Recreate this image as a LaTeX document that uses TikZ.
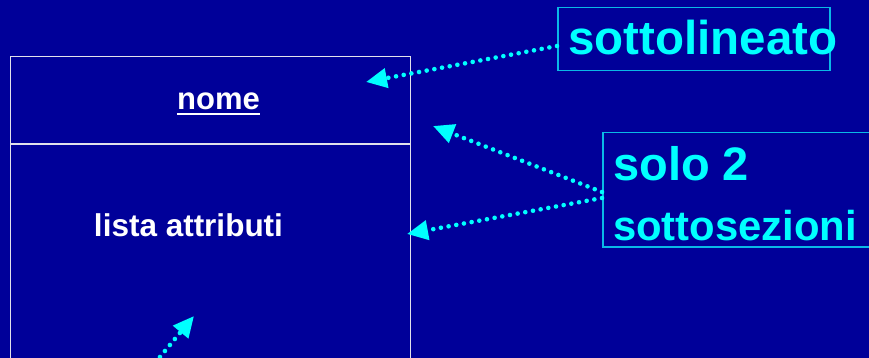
\documentclass[tikz,border=0pt]{standalone}
\usepackage{fontspec}
\setmainfont{Liberation Sans}
\usetikzlibrary{arrows.meta}
\definecolor{bgblue}{RGB}{0,0,153}
\definecolor{notecyan}{RGB}{0,255,255}
\definecolor{noteframe}{RGB}{10,185,230}
\definecolor{classline}{RGB}{225,225,235}
\tikzset{
  classbox/.style={draw=classline, line width=1.4pt, inner sep=0pt},
  notebox/.style={draw=noteframe, line width=1.5pt, inner sep=0pt},
  notetext/.style={text=notecyan, font=\bfseries, inner sep=0pt, anchor=base west},
  classtext/.style={text=white, font=\bfseries, inner sep=0pt, anchor=base},
  pointer/.style={draw=notecyan, line width=4.6pt, line cap=round,
    dash pattern=on 0pt off 7.8pt,
    -{Triangle[length=21pt,width=19pt,fill=notecyan]}},
}
\begin{document}
\begin{tikzpicture}[x=1pt,y=-1pt]
  % page
  \fill[bgblue] (0,0) rectangle (869,358);
  \useasboundingbox (0,0) rectangle (869,358);
  \begin{scope}
    \clip (0,0) rectangle (869,358);
    % class rectangle with name and attribute sections
    \node[classbox, minimum width=400pt, minimum height=320pt, anchor=north west]
      (cls) at (10,56) {};
    \coordinate (divL) at (10,144);
    \coordinate (divR) at (410,144);
    \draw[classline, line width=1.4pt] (divL) -- (divR);
    \node[classtext, font=\bfseries\fontsize{31}{31}\selectfont] (nome) at (218.5,110)
      {nome};
    \draw[white, line width=2.8pt]
      ([yshift=-4pt]nome.base west) -- ([yshift=-4pt]nome.base east);
    \node[classtext, font=\bfseries\fontsize{31.5}{31.5}\selectfont] (attr) at (188.5,236)
      {lista attributi};

    % note boxes
    \node[notebox, minimum width=272pt, minimum height=63pt, anchor=north west]
      (sbox) at (557,7) {};
    \node[notetext, font=\bfseries\fontsize{47.5}{47.5}\selectfont] (stext) at (568,55)
      {sottolineato};
    \node[notebox, minimum width=280pt, minimum height=114pt, anchor=north west]
      (tbox) at (602,132) {};
    \node[notetext, font=\bfseries\fontsize{47}{47}\selectfont] (t1) at (613,180)
      {solo 2};
    \node[notetext, font=\bfseries\fontsize{41.8}{41.8}\selectfont] (t2) at (613,240)
      {sottosezioni};

    % pointer ends
    \coordinate (sfrom) at (557,46);
    \coordinate (tfromA) at (602,192);
    \coordinate (tfromB) at (602,198);
    \coordinate (bfrom) at (145,375);
    \coordinate (pnome) at (366,82);
    \coordinate (pdiv) at (433,126);
    \coordinate (pattr) at (407,234);
    \coordinate (pbody) at (194,316);

    % dotted pointers
    \draw[pointer] (sfrom) -- (pnome);
    \draw[pointer] (tfromA) -- (pdiv);
    \draw[pointer] (tfromB) -- (pattr);
    \draw[pointer] (bfrom) -- (pbody);
  \end{scope}
\end{tikzpicture}
\end{document}
